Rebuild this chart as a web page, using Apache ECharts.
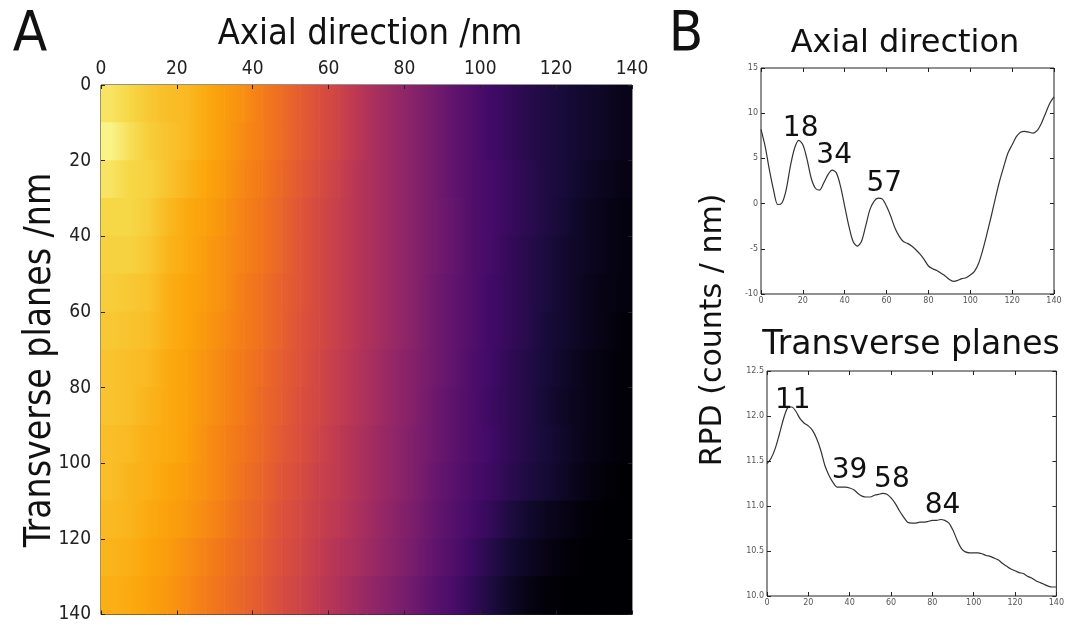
<!DOCTYPE html>
<html>
<head>
<meta charset="utf-8">
<script src="https://cdn.jsdelivr.net/npm/echarts@6/dist/echarts.min.js"></script>
<style>
  html, body { margin: 0; padding: 0; background: #fff; }
  #chart { width: 1067px; height: 624px; }
</style>
</head>
<body>
<div id="chart"></div>
<script>
// panel A: bin centres (nm) and read-off intensity (0..1 on the inferno scale)
const axialBins = [2.5, 7.5, 12.5, 17.5, 22.5, 27.5, 32.5, 37.5, 42.5, 47.5, 52.5, 57.5, 62.5, 67.5,
  72.5, 77.5, 82.5, 87.5, 92.5, 97.5, 102.5, 107.5, 112.5, 117.5, 122.5, 127.5, 132.5, 137.5];
const transBins = [5, 15, 25, 35, 45, 55, 65, 75, 85, 95, 105, 115, 125, 135];
const heatRows = [
  [.93,.90,.87,.85,.84,.81,.78,.75,.71,.67,.63,.59,.55,.50,.45,.41,.37,.33,.28,.24,.20,.17,.14,.12,.10,.08,.06,.04],
  [.97,.92,.88,.86,.84,.81,.78,.74,.71,.67,.63,.59,.55,.50,.45,.41,.37,.33,.28,.24,.20,.17,.14,.12,.10,.08,.06,.04],
  [.93,.90,.89,.86,.83,.80,.77,.73,.70,.66,.62,.58,.54,.49,.45,.41,.37,.33,.28,.24,.21,.18,.15,.12,.10,.07,.05,.03],
  [.90,.90,.88,.84,.81,.79,.76,.72,.69,.65,.61,.57,.53,.49,.45,.41,.37,.33,.29,.24,.21,.18,.15,.12,.09,.06,.04,.02],
  [.89,.89,.87,.83,.81,.78,.75,.72,.69,.65,.61,.57,.53,.49,.45,.41,.37,.33,.29,.24,.21,.17,.14,.11,.08,.06,.04,.02],
  [.88,.87,.86,.82,.80,.78,.75,.71,.68,.64,.61,.57,.53,.49,.45,.41,.37,.32,.28,.24,.20,.17,.14,.11,.08,.05,.03,.02],
  [.87,.86,.85,.82,.80,.77,.74,.71,.68,.64,.60,.57,.53,.49,.45,.41,.37,.32,.28,.24,.20,.17,.14,.10,.08,.05,.03,.01],
  [.86,.85,.84,.81,.79,.76,.73,.70,.67,.63,.60,.56,.52,.48,.44,.40,.36,.32,.28,.23,.20,.16,.13,.10,.07,.04,.02,.01],
  [.86,.85,.83,.81,.79,.76,.73,.70,.66,.63,.59,.56,.52,.48,.44,.40,.36,.31,.27,.23,.19,.16,.13,.09,.06,.04,.02,.01],
  [.85,.84,.82,.81,.79,.75,.72,.69,.66,.62,.59,.55,.51,.47,.43,.39,.35,.31,.27,.23,.20,.16,.13,.10,.07,.04,.02,.01],
  [.85,.83,.82,.80,.78,.75,.72,.68,.65,.61,.58,.54,.51,.47,.43,.39,.35,.30,.26,.22,.19,.15,.12,.09,.06,.03,.01,.00],
  [.84,.83,.81,.79,.77,.74,.71,.67,.64,.60,.57,.53,.50,.46,.42,.38,.34,.29,.25,.21,.17,.12,.08,.05,.03,.01,.00,.00],
  [.83,.82,.80,.78,.75,.72,.69,.66,.63,.59,.56,.52,.48,.45,.41,.37,.33,.28,.24,.19,.14,.09,.06,.03,.01,.00,.00,.00],
  [.82,.81,.79,.77,.74,.71,.68,.65,.62,.58,.55,.51,.47,.43,.39,.35,.31,.26,.22,.17,.12,.07,.03,.01,.00,.00,.00,.00]
];

// panel B: radial profiles
const profileX = [0, 2, 4, 6, 8, 10, 12, 14, 16, 18, 20, 22, 24, 26, 28, 30, 32, 34, 36, 38, 40, 42, 44, 46,
  48, 50, 52, 54, 56, 58, 60, 62, 64, 66, 68, 70, 72, 74, 76, 78, 80, 82, 84, 86, 88, 90, 92, 94, 96, 98,
  100, 102, 104, 106, 108, 110, 112, 114, 116, 118, 120, 122, 124, 126, 128, 130, 132, 134, 136, 138, 140];
const axialRPD = [8.2, 6.3, 3.75, 1.5, -0.1, 0.07, 1.5, 4.1, 6.1, 7.0, 6.5, 4.9, 2.8, 1.7, 1.5, 2.3, 3.2, 3.7,
  3.4, 1.9, -0.3, -2.5, -4.2, -4.7, -4.2, -2.5, -0.7, 0.25, 0.6, 0.5, -0.3, -1.4, -2.7, -3.6, -4.2, -4.4,
  -4.7, -5.1, -5.6, -6.2, -6.9, -7.2, -7.4, -7.7, -8.0, -8.4, -8.6, -8.5, -8.3, -8.2, -7.9, -7.5, -6.6,
  -5.1, -3.3, -1.4, 0.6, 2.5, 4.1, 5.6, 6.5, 7.4, 7.9, 8.0, 7.9, 7.8, 8.1, 8.9, 10.0, 11.1, 11.8];
const transRPD = [11.47, 11.53, 11.64, 11.80, 11.97, 12.09, 12.10, 12.05, 11.97, 11.92, 11.89, 11.84, 11.75,
  11.62, 11.45, 11.34, 11.26, 11.21, 11.21, 11.21, 11.20, 11.18, 11.14, 11.11, 11.10, 11.10, 11.12, 11.13,
  11.14, 11.13, 11.09, 11.03, 10.95, 10.88, 10.82, 10.81, 10.81, 10.82, 10.82, 10.83, 10.84, 10.84, 10.85,
  10.84, 10.81, 10.73, 10.62, 10.53, 10.49, 10.48, 10.48, 10.48, 10.47, 10.45, 10.44, 10.42, 10.40, 10.36,
  10.33, 10.30, 10.28, 10.26, 10.25, 10.22, 10.20, 10.17, 10.15, 10.13, 10.11, 10.10, 10.10];

const axialPeaks = [18, 34, 57];
const axialPeakY = [7.0, 3.7, 0.6];
const transPeaks = [11, 39, 58, 84];
const transPeakY = [12.1, 11.21, 11.14, 10.85];

const inferno = ['#000004', '#160b39', '#420a68', '#6a176e', '#932667', '#bc3754',
  '#dd513a', '#f37819', '#fca50a', '#f6d746', '#fcffa4'];

// value 0..1 -> inferno colour
function infernoColor(v) {
  v = Math.max(0, Math.min(1, v));
  const t = v * (inferno.length - 1);
  const k = Math.min(Math.floor(t), inferno.length - 2);
  const f = t - k;
  const a = inferno[k], b = inferno[k + 1];
  const ch = (h, o) => parseInt(h.substr(o, 2), 16);
  const mix = o => Math.round(ch(a, o) + (ch(b, o) - ch(a, o)) * f);
  return 'rgb(' + mix(1) + ',' + mix(3) + ',' + mix(5) + ')';
}

const heatData = [];
heatRows.forEach((row, j) => row.forEach((v, i) => heatData.push([axialBins[i], transBins[j], v, i, j])));

const chart = echarts.init(document.getElementById('chart'));

const fontA = '"Liberation Sans Narrow", "DejaVu Sans Condensed", "Liberation Sans", sans-serif';
const fontB = '"DejaVu Sans", Verdana, sans-serif';

// matplotlib-style value axis: ticks pointing inward
function valAxis(grid, pos, min, max, step, opts) {
  return Object.assign({
    type: 'value', gridIndex: grid, position: pos, min: min, max: max, interval: step, z: 5,
    splitLine: { show: false },
    axisLine: { show: false, onZero: false },
    axisTick: { show: true, inside: true, length: 4, lineStyle: { color: '#222' } },
    axisLabel: { show: false }
  }, opts || {});
}

const smallLabel = { show: true, fontSize: 8, color: '#555', fontFamily: fontB, margin: 3 };
const bigLabel = { show: true, fontSize: 19, color: '#222', fontFamily: fontA };

function peakMarks(xs, ys, offs) {
  return {
    symbol: 'circle', symbolSize: 0,
    label: { show: true, position: 'top', distance: 0, fontSize: 28, color: '#111', fontFamily: fontB,
      formatter: p => String(p.data.coord[0]) },
    data: xs.map((x, i) => ({ coord: [x, ys[i]], label: { offset: offs[i] } }))
  };
}

// each cell is drawn from its bin centre to the next one, shaded between the two read colours
function renderCell(params, api) {
  const i = api.value(3), j = api.value(4);
  const n = axialBins.length;
  const v = api.value(2);
  const xa = i === 0 ? 0 : axialBins[i];
  const xb = i === n - 1 ? 140 : axialBins[i + 1];
  const c0 = infernoColor(v);
  const c1 = i === n - 1 ? c0 : infernoColor(heatRows[j][i + 1]);
  const p0 = api.coord([xa, transBins[j] - 5]);
  const p1 = api.coord([xb, transBins[j] + 5]);
  const start = i === 0 ? (axialBins[0] - xa) / (xb - xa) : 0;
  return {
    type: 'rect',
    shape: { x: p0[0], y: Math.min(p0[1], p1[1]) - 0.5, width: p1[0] - p0[0] + 0.6, height: Math.abs(p1[1] - p0[1]) + 1 },
    style: { fill: new echarts.graphic.LinearGradient(0, 0, 1, 0, [{ offset: start, color: c0 }, { offset: 1, color: c1 }]) }
  };
}

const option = {
  animation: false,
  backgroundColor: '#fff',
  grid: [
    { left: 101, top: 85, width: 531, height: 530, show: true, borderColor: '#222', borderWidth: 1 },
    { left: 761, top: 68, width: 293, height: 226, show: true, borderColor: '#222', borderWidth: 1 },
    { left: 767, top: 371, width: 294, height: 225, show: true, borderColor: '#222', borderWidth: 1 }
  ],
  xAxis: [
    valAxis(0, 'top', 0, 140, 20, { axisLabel: Object.assign({}, bigLabel, { margin: 6 }) }),
    valAxis(1, 'bottom', 0, 140, 20, { axisLabel: smallLabel }),
    valAxis(1, 'top', 0, 140, 20),
    valAxis(2, 'bottom', 0, 140, 20, { axisLabel: smallLabel }),
    valAxis(2, 'top', 0, 140, 20),
    valAxis(0, 'bottom', 0, 140, 20)
  ],
  yAxis: [
    valAxis(0, 'left', 0, 140, 20, { inverse: true, axisLabel: Object.assign({}, bigLabel, { margin: 10 }) }),
    valAxis(1, 'left', -10, 15, 5, { axisLabel: smallLabel }),
    valAxis(1, 'right', -10, 15, 5),
    valAxis(2, 'left', 10, 12.5, 0.5, { axisLabel: Object.assign({}, smallLabel, { formatter: v => v.toFixed(1) }) }),
    valAxis(2, 'right', 10, 12.5, 0.5),
    valAxis(0, 'right', 0, 140, 20, { inverse: true })
  ],
  series: [
    {
      type: 'custom', xAxisIndex: 0, yAxisIndex: 0, data: heatData, clip: true,
      renderItem: renderCell, z: 1
    },
    {
      type: 'line', xAxisIndex: 1, yAxisIndex: 1,
      data: profileX.map((x, i) => [x, axialRPD[i]]),
      showSymbol: false, smooth: 0.3,
      lineStyle: { color: '#333', width: 1.2 },
      markPoint: peakMarks(axialPeaks, axialPeakY, [[2, 2], [2, 0], [4, 0]])
    },
    {
      type: 'line', xAxisIndex: 3, yAxisIndex: 3,
      data: profileX.map((x, i) => [x, transRPD[i]]),
      showSymbol: false, smooth: 0.3,
      lineStyle: { color: '#333', width: 1.2 },
      markPoint: peakMarks(transPeaks, transPeakY, [[3, 8], [2, -2], [5, 0], [2, 0]])
    }
  ],
  graphic: [
    { type: 'text', x: 30, y: 35, style: { text: 'A', fontSize: 56, fontFamily: fontA, fill: '#111', textAlign: 'center', textVerticalAlign: 'middle' } },
    { type: 'text', x: 370, y: 35, style: { text: 'Axial direction /nm', fontSize: 36, fontFamily: fontA, fill: '#111', textAlign: 'center', textVerticalAlign: 'middle' } },
    { type: 'text', x: 40, y: 360, rotation: Math.PI / 2, style: { text: 'Transverse planes /nm', fontSize: 37, fontFamily: fontA, fill: '#111', textAlign: 'center', textVerticalAlign: 'middle' } },
    { type: 'text', x: 686, y: 35, style: { text: 'B', fontSize: 56, fontFamily: fontA, fill: '#111', textAlign: 'center', textVerticalAlign: 'middle' } },
    { type: 'text', x: 905, y: 44, style: { text: 'Axial direction', fontSize: 32, fontFamily: fontB, fill: '#111', textAlign: 'center', textVerticalAlign: 'middle' } },
    { type: 'text', x: 911, y: 345, style: { text: 'Transverse planes', fontSize: 33, fontFamily: fontB, fill: '#111', textAlign: 'center', textVerticalAlign: 'middle' } },
    { type: 'text', x: 713, y: 330, rotation: Math.PI / 2, style: { text: 'RPD (counts / nm)', fontSize: 30, fontFamily: fontB, fill: '#111', textAlign: 'center', textVerticalAlign: 'middle' } }
  ]
};

chart.setOption(option);
</script>
</body>
</html>
